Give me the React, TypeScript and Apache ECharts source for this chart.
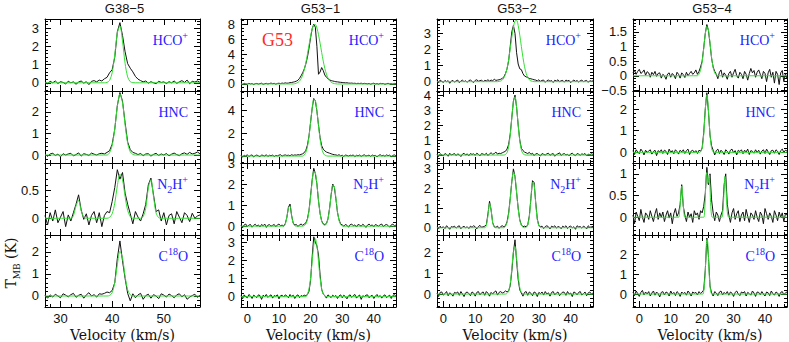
import React, { useEffect, useRef } from 'react';
import * as echarts from 'echarts';

// ---------------- text ----------------
const SOURCES = ['G38\u22125', 'G53\u22121', 'G53\u22122', 'G53\u22124'];
const LINE_LABELS = ['{b|HCO}{sup|+}', '{b|HNC}', '{b|N}{sub|2}{b|H}{sup|+}', '{b|C}{sup|18}{b|O}'];
const X_TITLE = 'Velocity (km/s)';
const Y_TITLE = '{b|T}{sub|MB}{b| (K)}';
const REGION_LABEL = 'G53';

// ---------------- velocity channels / axes ----------------
const V_FIRST = [27, -2, -2, -2];
const V_CHANNEL = 0.5;
const X_LIMITS = [[27, 57], [-2, 47], [-2, 47], [-2, 47]];
const X_MAJOR_STEP = 10;
const X_MINOR_STEP = 2;
// [min, max, major step, minor step] per source (column) and line (row)
const Y_LIMITS = [
  [[-0.45, 3.5, 1, 0.2], [-0.37, 2.97, 1, 0.2], [-0.3, 0.99, 0.5, 0.1], [-0.5, 2.77, 1, 0.2]],
  [[-0.94, 8.7, 2, 0.5], [-0.6, 5.65, 2, 0.5], [-0.42, 3.0, 1, 0.2], [-0.57, 3.4, 1, 0.2]],
  [[-0.58, 3.9, 1, 0.2], [-0.53, 4.27, 1, 0.2], [-0.37, 3.3, 1, 0.2], [-0.62, 2.83, 1, 0.2]],
  [[-0.52, 1.94, 0.5, 0.1], [-0.49, 2.83, 1, 0.2], [-0.41, 1.25, 0.5, 0.1], [-0.65, 2.95, 1, 0.2]],
];

// ---------------- G38-5 (27 .. 57 km/s, 0.5 km/s channels) ----------------
const G38_5_HCO_OBS = [
  0.05, -0.05, 0.08, 0.0, 0.1, -0.04, 0.06, 0.02, -0.06, 0.08,
  0.0, 0.05, -0.08, 0.04, 0.1, -0.02, 0.06, -0.1, 0.08, 0.12,
  0.05, 0.15, 0.1, 0.22, 0.3, 0.55, 0.72, 1.4, 2.8, 3.3,
  2.6, 1.7, 1.05, 0.8, 0.6, 0.35, 0.2, 0.12, 0.05, 0.1,
  -0.02, 0.06, 0.0, -0.05, 0.08, 0.02, 0.05, -0.04, 0.06, 0.0,
  0.1, -0.03, 0.05, 0.12, 0.02, 0.15, -0.05, 0.08, 0.04, 0.1,
  0.02];
const G38_5_HCO_FIT = [[27, 0], [38.5, 0], [39, 0.02], [39.5, 0.13], [40, 0.55], [40.5, 1.53], [41, 2.73], [41.5, 3.12], [42, 2.29], [42.5, 1.07], [43, 0.32], [43.5, 0.06], [44, 0.01], [44.5, 0], [57, 0]];

const G38_5_HNC_OBS = [
  0.03, -0.06, 0.05, 0.08, -0.02, 0.04, -0.08, 0.06, 0.0, 0.05,
  0.08, -0.04, 0.02, 0.1, -0.05, 0.06, 0.03, -0.02, 0.09, 0.04,
  0.0, 0.06, 0.08, 0.05, 0.12, 0.2, 0.5, 1.2, 2.3, 2.9,
  2.5, 1.5, 0.6, 0.25, 0.12, 0.08, 0.02, 0.07, -0.03, 0.05,
  0.06, -0.05, 0.03, 0.08, -0.02, 0.05, 0.0, 0.07, -0.04, 0.04,
  0.09, 0.02, -0.03, 0.06, 0.1, 0.03, 0.12, 0.05, 0.08, 0.14,
  0.06];
const G38_5_HNC_FIT = [[27, 0], [39, 0], [39.5, 0.11], [40, 0.44], [40.5, 1.2], [41, 2.25], [41.5, 2.84], [42, 2.43], [42.5, 1.41], [43, 0.55], [43.5, 0.15], [44, 0.03], [44.5, 0], [57, 0]];

const G38_5_N2H_OBS = [
  0.05, -0.12, 0.1, -0.05, 0.15, -0.08, 0.02, 0.12, -0.15, 0.06,
  -0.05, 0.1, 0.25, 0.42, 0.15, -0.02, 0.08, -0.12, 0.05, 0.12,
  -0.08, 0.1, -0.15, 0.05, 0.12, 0.1, 0.3, 0.55, 0.87, 0.7,
  0.82, 0.45, 0.25, 0.08, -0.1, 0.12, 0.02, -0.05, 0.08, 0.25,
  0.6, 0.72, 0.42, 0.12, 0.15, -0.05, 0.1, -0.12, 0.05, 0.08,
  -0.1, 0.12, 0.02, -0.08, 0.1, 0.05, -0.06, 0.09, 0.0, 0.04,
  0.06];
const G38_5_N2H_FIT = [[27, 0], [32, 0], [32.5, 0.045], [33, 0.22], [33.5, 0.32], [34, 0.136], [34.5, 0.017], [35, 0], [39, 0], [39.5, 0.016], [40, 0.08], [40.5, 0.27], [41, 0.58], [41.5, 0.79], [42, 0.69], [42.5, 0.39], [43, 0.14], [43.5, 0.03], [44, 0], [45.5, 0], [46, 0.03], [46.5, 0.18], [47, 0.54], [47.5, 0.69], [48, 0.39], [48.5, 0.095], [49, 0.01], [49.5, 0], [57, 0]];

const G38_5_C18O_OBS = [
  0.02, -0.1, 0.05, -0.05, 0.08, 0.0, -0.08, 0.1, 0.04, -0.04,
  0.06, 0.12, -0.06, 0.03, 0.08, -0.1, 0.05, 0.15, 0.0, 0.06,
  -0.05, 0.1, 0.08, 0.12, 0.18, 0.15, 0.25, 0.6, 1.7, 2.5,
  1.6, 0.8, 0.12, -0.22, 0.1, -0.08, 0.05, 0.12, -0.15, 0.02,
  0.08, -0.1, 0.06, 0.0, -0.12, 0.1, 0.04, -0.05, 0.09, 0.02,
  -0.08, 0.05, 0.1, -0.04, 0.06, -0.15, -0.05, 0.02, 0.08, -0.06,
  0.04];
const G38_5_C18O_FIT = [[27, 0], [39, 0], [39.5, 0.02], [40, 0.15], [40.5, 0.6], [41, 1.42], [41.5, 2.03], [42, 1.74], [42.5, 0.9], [43, 0.28], [43.5, 0.05], [44, 0], [57, 0]];

// ---------------- G53-1 (-2 .. 47 km/s, 0.5 km/s channels) ----------------
const G53_1_HCO_OBS = [
  0.05, -0.06, 0.08, 0.02, -0.04, 0.1, 0.0, 0.06, -0.08, 0.04,
  0.07, -0.02, 0.05, 0.1, -0.05, 0.03, 0.08, 0.0, 0.06, 0.12,
  0.04, 0.09, -0.03, 0.07, 0.1, 0.05, 0.12, 0.08, 0.15, 0.1,
  0.12, 0.18, 0.2, 0.25, 0.3, 0.38, 0.5, 0.75, 1.1, 1.5,
  2.0, 2.7, 3.6, 4.8, 6.2, 7.4, 8.0, 7.6, 5.0, 1.3,
  1.6, 2.2, 1.8, 1.2, 0.9, 0.7, 0.55, 0.45, 0.4, 0.35,
  0.3, 0.28, 0.25, 0.22, 0.2, 0.18, 0.15, 0.16, 0.12, 0.1,
  0.12, 0.08, 0.1, 0.05, 0.09, 0.06, 0.1, 0.03, 0.08, 0.05,
  0.02, 0.07, -0.04, 0.06, 0.1, 0.0, 0.05, -0.03, 0.08, 0.04,
  0.06, -0.05, 0.03, 0.09, 0.0, 0.05, -0.02, 0.07, 0.04];
const G53_1_HCO_FIT = [[-2, 0], [14.5, 0], [15, 0.04], [15.5, 0.1], [16, 0.2], [16.5, 0.39], [17, 0.7], [17.5, 1.2], [18, 1.9], [18.5, 2.85], [19, 3.99], [19.5, 5.2], [20, 6.4], [20.5, 7.35], [21, 7.9], [21.5, 7.96], [22, 7.5], [22.5, 6.6], [23, 5.47], [23.5, 4.23], [24, 3.07], [24.5, 2.08], [25, 1.32], [25.5, 0.79], [26, 0.44], [26.5, 0.23], [27, 0.11], [27.5, 0.05], [28, 0.02], [28.5, 0], [47, 0]];

const G53_1_HNC_OBS = [
  0.05, -0.1, 0.08, 0.0, 0.12, -0.05, 0.06, 0.1, -0.08, 0.04,
  0.09, 0.02, -0.06, 0.1, 0.05, 0.0, 0.12, -0.04, 0.07, 0.03,
  0.1, -0.05, 0.06, 0.02, 0.08, 0.12, 0.0, 0.07, 0.1, 0.05,
  0.08, 0.03, 0.12, 0.06, 0.1, 0.08, 0.12, 0.1, 0.15, 0.2,
  0.3, 0.5, 0.95, 1.75, 2.95, 4.15, 5.0, 4.8, 3.9, 2.7,
  1.6, 0.9, 0.6, 0.45, 0.35, 0.3, 0.25, 0.2, 0.15, 0.12,
  0.1, 0.06, 0.12, 0.02, 0.08, -0.05, 0.1, 0.05, 0.0, 0.08,
  0.04, 0.1, -0.06, 0.07, 0.02, 0.09, -0.03, 0.06, 0.11, 0.0,
  0.05, 0.08, -0.04, 0.1, 0.03, 0.06, -0.08, 0.05, 0.12, 0.02,
  0.07, -0.02, 0.1, 0.04, 0.08, -0.05, 0.06, 0.1, 0.03];
const G53_1_HNC_FIT = [[-2, 0], [17.5, 0], [18, 0.1], [18.5, 0.32], [19, 0.8], [19.5, 1.68], [20, 2.9], [20.5, 4.15], [21, 4.92], [21.5, 4.83], [22, 3.93], [22.5, 2.64], [23, 1.47], [23.5, 0.68], [24, 0.26], [24.5, 0.08], [25, 0.02], [25.5, 0], [47, 0]];

const G53_1_N2H_OBS = [
  0.03, -0.08, 0.06, 0.1, -0.02, 0.05, 0.08, -0.05, 0.04, 0.09,
  0.0, 0.06, -0.04, 0.08, 0.02, 0.1, -0.06, 0.05, 0.07, 0.0,
  0.04, 0.08, -0.03, 0.06, 0.1, 0.02, 0.05, 0.0, 0.12, 0.42,
  0.9, 1.05, 0.5, 0.15, 0.05, 0.08, -0.02, 0.06, 0.1, 0.04,
  0.1, 0.15, 0.35, 0.75, 1.45, 2.2, 2.75, 2.5, 2.0, 1.2,
  0.6, 0.25, 0.1, 0.08, 0.12, 0.35, 0.85, 1.5, 2.0, 1.85,
  1.3, 0.65, 0.3, 0.1, 0.06, 0.0, 0.08, 0.04, -0.05, 0.07,
  0.1, 0.02, 0.06, -0.04, 0.08, 0.05, 0.0, 0.09, 0.03, -0.06,
  0.05, 0.1, 0.02, 0.06, -0.03, 0.08, 0.04, 0.0, 0.07, 0.1,
  -0.02, 0.05, 0.08, 0.03, -0.05, 0.06, 0.1, 0.02, 0.05];
const G53_1_N2H_FIT = [[-2, 0], [11.5, 0], [12, 0.1], [12.5, 0.41], [13, 0.88], [13.5, 0.95], [14, 0.51], [14.5, 0.14], [15, 0.02], [15.5, 0], [17.5, 0], [18, 0.03], [18.5, 0.1], [19, 0.3], [19.5, 0.72], [20, 1.38], [20.5, 2.12], [21, 2.6], [21.5, 2.54], [22, 1.98], [22.5, 1.23], [23, 0.61], [23.5, 0.24], [24, 0.08], [24.5, 0.04], [25, 0.1], [25.5, 0.34], [26, 0.82], [26.5, 1.48], [27, 1.95], [27.5, 1.89], [28, 1.35], [28.5, 0.7], [29, 0.27], [29.5, 0.08], [30, 0.01], [30.5, 0], [47, 0]];

const G53_1_C18O_OBS = [
  0.05, -0.12, 0.1, 0.0, -0.06, 0.12, 0.04, -0.1, 0.08, 0.02,
  -0.05, 0.1, 0.06, -0.15, 0.08, 0.0, 0.12, -0.04, 0.05, 0.1,
  -0.08, 0.06, 0.02, 0.1, -0.12, 0.05, 0.08, -0.02, 0.1, 0.04,
  -0.06, 0.12, 0.0, 0.08, -0.1, 0.05, 0.1, -0.05, 0.06, 0.02,
  0.08, 0.05, 0.12, 0.3, 0.9, 2.2, 3.3, 3.0, 2.8, 2.3,
  1.2, 0.4, 0.15, 0.05, -0.08, 0.1, 0.02, -0.05, 0.08, 0.0,
  0.06, -0.1, 0.04, 0.1, -0.06, 0.08, 0.0, -0.12, 0.05, 0.1,
  -0.04, 0.06, 0.12, -0.08, 0.02, 0.09, -0.15, 0.05, 0.0, 0.08,
  0.1, -0.06, 0.04, 0.07, -0.1, 0.03, 0.12, -0.02, 0.06, -0.08,
  0.05, 0.1, -0.05, 0.02, 0.08, -0.1, 0.06, 0.12, 0.0];
const G53_1_C18O_FIT = [[-2, 0], [18.5, 0], [19, 0.14], [19.5, 0.43], [20, 1.04], [20.5, 1.94], [21, 2.82], [21.5, 3.2], [22, 2.82], [22.5, 1.94], [23, 1.04], [23.5, 0.43], [24, 0.14], [24.5, 0.04], [25, 0], [47, 0]];

// ---------------- G53-2 ----------------
const G53_2_HCO_OBS = [
  0.05, -0.08, 0.1, 0.02, -0.05, 0.08, 0.0, 0.06, -0.1, 0.04,
  0.08, -0.03, 0.05, 0.1, -0.06, 0.04, 0.09, 0.0, 0.06, -0.04,
  0.07, 0.1, 0.02, -0.05, 0.08, 0.12, 0.03, 0.06, 0.1, 0.0,
  0.08, 0.05, 0.12, 0.04, 0.1, 0.06, 0.15, 0.08, 0.1, 0.12,
  0.15, 0.2, 0.3, 0.5, 0.8, 1.3, 2.2, 3.1, 3.5, 3.0,
  1.8, 1.1, 0.8, 0.75, 0.5, 0.35, 0.3, 0.25, 0.2, 0.18,
  0.15, 0.12, 0.1, 0.05, 0.12, 0.02, 0.08, 0.1, -0.04, 0.06,
  0.1, 0.03, 0.07, -0.05, 0.09, 0.04, 0.12, 0.0, 0.06, 0.08,
  -0.03, 0.1, 0.05, 0.08, -0.06, 0.04, 0.1, 0.02, 0.07, -0.02,
  0.06, 0.1, 0.0, 0.05, 0.08, -0.04, 0.06, 0.03, 0.05];
const G53_2_HCO_FIT = [[-2, 0], [17, 0], [17.5, 0.02], [18, 0.04], [18.5, 0.1], [19, 0.23], [19.5, 0.46], [20, 0.83], [20.5, 1.37], [21, 2.05], [21.5, 2.77], [22, 3.4], [22.5, 3.78], [23, 3.82], [23.5, 3.5], [24, 2.9], [24.5, 2.19], [25, 1.5], [25.5, 0.93], [26, 0.52], [26.5, 0.27], [27, 0.12], [27.5, 0.05], [28, 0.02], [28.5, 0], [47, 0]];

const G53_2_HNC_OBS = [
  0.06, -0.1, 0.08, 0.02, -0.06, 0.1, 0.04, -0.08, 0.12, 0.0,
  0.05, 0.1, -0.04, 0.08, 0.02, -0.1, 0.06, 0.12, 0.0, 0.08,
  -0.05, 0.1, 0.04, 0.08, -0.02, 0.12, 0.05, -0.06, 0.1, 0.06,
  0.02, 0.12, -0.04, 0.08, 0.15, 0.05, 0.1, 0.2, 0.06, 0.12,
  0.1, 0.15, 0.2, 0.25, 0.4, 0.7, 1.4, 2.5, 3.6, 4.0,
  3.2, 2.0, 1.0, 0.45, 0.3, 0.2, 0.15, 0.1, 0.18, 0.05,
  0.12, -0.04, 0.08, 0.1, 0.02, -0.06, 0.1, 0.05, 0.0, 0.08,
  0.12, -0.02, 0.06, 0.1, -0.08, 0.04, 0.08, 0.15, -0.03, 0.06,
  0.1, 0.0, 0.05, -0.06, 0.08, 0.12, 0.02, -0.04, 0.1, 0.06,
  -0.02, 0.08, 0.04, 0.1, -0.05, 0.06, 0.02, 0.08, 0.04];
const G53_2_HNC_FIT = [[-2, 0], [19, 0], [19.5, 0.04], [20, 0.16], [20.5, 0.53], [21, 1.32], [21.5, 2.49], [22, 3.57], [22.5, 3.88], [23, 3.19], [23.5, 2.0], [24, 0.94], [24.5, 0.34], [25, 0.09], [25.5, 0.02], [26, 0], [47, 0]];

const G53_2_N2H_OBS = [
  0.04, -0.06, 0.08, 0.0, 0.05, -0.04, 0.1, 0.02, -0.08, 0.06,
  0.03, 0.08, -0.02, 0.06, 0.1, -0.05, 0.04, 0.07, 0.0, 0.05,
  -0.04, 0.08, 0.02, 0.1, 0.05, -0.06, 0.06, 0.12, 0.02, 0.05,
  0.08, 0.15, 0.7, 1.35, 0.9, 0.25, 0.05, 0.02, 0.08, -0.03,
  0.06, 0.1, 0.05, 0.1, 0.3, 0.75, 1.5, 2.35, 3.0, 2.6,
  1.8, 1.0, 0.4, 0.15, 0.05, 0.08, 0.05, 0.15, 0.6, 1.5,
  2.4, 2.3, 1.3, 0.45, 0.1, 0.05, 0.08, -0.04, 0.06, 0.1,
  0.05, -0.06, 0.08, 0.03, 0.1, -0.02, 0.06, 0.04, -0.05, 0.08,
  0.02, 0.1, -0.04, 0.06, 0.08, 0.0, 0.05, -0.08, 0.1, 0.04,
  0.06, -0.02, 0.08, 0.03, -0.06, 0.1, 0.02, 0.05, 0.07];
const G53_2_N2H_FIT = [[-2, 0], [13, 0], [13.5, 0.11], [14, 0.61], [14.5, 1.23], [15, 0.91], [15.5, 0.25], [16, 0.02], [16.5, 0], [19, 0], [19.5, 0.07], [20, 0.25], [20.5, 0.69], [21, 1.46], [21.5, 2.33], [22, 2.83], [22.5, 2.61], [23, 1.82], [23.5, 0.96], [24, 0.38], [24.5, 0.12], [25, 0.03], [25.5, 0], [26, 0.02], [26.5, 0.13], [27, 0.55], [27.5, 1.46], [28, 2.3], [28.5, 2.19], [29, 1.25], [29.5, 0.43], [30, 0.09], [30.5, 0.01], [31, 0], [47, 0]];

const G53_2_C18O_OBS = [
  0.05, -0.12, 0.08, 0.1, -0.05, 0.02, 0.12, -0.08, 0.06, 0.0,
  -0.1, 0.08, 0.04, 0.1, -0.06, 0.12, 0.0, -0.12, 0.06, 0.1,
  0.02, -0.08, 0.1, 0.05, -0.1, 0.08, 0.12, -0.04, 0.06, 0.1,
  -0.06, 0.12, 0.04, -0.1, 0.08, 0.0, 0.1, 0.15, -0.05, 0.08,
  0.12, 0.05, 0.08, 0.15, 0.1, 0.15, 0.4, 1.1, 2.0, 2.6,
  1.6, 0.7, 0.2, 0.05, -0.1, 0.08, 0.12, -0.06, 0.1, 0.04,
  -0.08, 0.1, 0.06, -0.12, 0.08, 0.02, 0.1, -0.05, 0.12, 0.0,
  0.06, -0.1, 0.08, 0.12, -0.04, 0.05, 0.1, -0.08, 0.02, 0.1,
  0.08, -0.06, 0.12, 0.0, 0.05, -0.12, 0.1, 0.06, -0.04, 0.08,
  0.12, -0.05, 0.02, 0.1, -0.08, 0.06, 0.1, 0.0, 0.05];
const G53_2_C18O_FIT = [[-2, 0], [19.5, 0], [20, 0.03], [20.5, 0.14], [21, 0.5], [21.5, 1.22], [22, 2.03], [22.5, 2.28], [23, 1.74], [23.5, 0.89], [24, 0.31], [24.5, 0.07], [25, 0.01], [25.5, 0], [47, 0]];

// ---------------- G53-4 ----------------
const G53_4_HCO_OBS = [
  0.1, 0.18, 0.05, 0.15, 0.22, 0.08, 0.12, 0.2, 0.02, 0.14,
  0.1, -0.05, 0.12, 0.04, 0.15, -0.02, 0.08, 0.1, -0.08, 0.05,
  0.0, -0.12, 0.06, 0.1, -0.05, 0.08, 0.02, -0.1, 0.12, 0.05,
  -0.08, 0.1, 0.04, -0.06, 0.12, 0.0, 0.08, 0.15, 0.05, 0.1,
  0.2, 0.05, 0.15, 0.3, 0.5, 0.95, 1.45, 1.75, 1.55, 1.1,
  0.6, 0.3, 0.15, 0.05, -0.1, 0.12, 0.2, -0.05, 0.1, 0.02,
  -0.12, 0.08, 0.15, -0.05, 0.1, 0.22, 0.0, -0.08, 0.12, 0.05,
  -0.1, 0.15, 0.05, -0.15, 0.08, 0.25, 0.1, 0.18, -0.05, 0.12,
  0.2, 0.05, -0.1, 0.15, 0.08, -0.2, 0.1, 0.22, -0.05, 0.12,
  -0.25, 0.15, 0.05, -0.3, 0.1, 0.18, -0.2, 0.08, -0.1];
const G53_4_HCO_FIT = [[-2, 0], [18.5, 0], [19, 0.06], [19.5, 0.19], [20, 0.47], [20.5, 0.93], [21, 1.42], [21.5, 1.69], [22, 1.57], [22.5, 1.13], [23, 0.64], [23.5, 0.28], [24, 0.1], [24.5, 0.03], [25, 0], [47, 0]];

const G53_4_HNC_OBS = [
  0.08, -0.1, 0.12, 0.02, -0.06, 0.15, 0.05, -0.12, 0.1, 0.0,
  0.06, 0.12, -0.08, 0.04, 0.1, -0.15, 0.08, 0.02, 0.12, -0.05,
  0.1, 0.05, -0.1, 0.15, 0.0, 0.08, -0.06, 0.12, 0.04, -0.08,
  0.1, 0.02, 0.12, -0.05, 0.08, 0.15, -0.1, 0.06, 0.1, 0.0,
  0.08, -0.05, 0.1, 0.05, 0.2, 0.9, 2.0, 2.75, 1.9, 0.8,
  0.3, 0.1, -0.12, 0.08, 0.15, -0.05, 0.1, 0.02, -0.1, 0.12,
  0.05, -0.08, 0.1, 0.15, -0.02, 0.08, -0.12, 0.1, 0.04, 0.12,
  -0.06, 0.1, 0.02, 0.15, -0.1, 0.08, 0.05, -0.04, 0.12, 0.0,
  0.1, -0.08, 0.06, 0.12, -0.05, 0.15, 0.02, -0.1, 0.08, 0.1,
  -0.04, 0.12, 0.05, -0.1, 0.08, 0.15, 0.0, 0.1, 0.06];
const G53_4_HNC_FIT = [[-2, 0], [19, 0], [19.5, 0.02], [20, 0.19], [20.5, 0.81], [20.75, 1.36], [21, 1.97], [21.25, 2.46], [21.5, 2.65], [21.75, 2.46], [22, 1.97], [22.25, 1.36], [22.5, 0.81], [23, 0.19], [23.5, 0.02], [24, 0], [47, 0]];

const G53_4_N2H_OBS = [
  0.05, -0.15, 0.12, 0.02, -0.08, 0.18, 0.0, -0.12, 0.1, 0.05,
  -0.05, 0.15, 0.02, -0.1, 0.08, 0.2, -0.05, 0.1, 0.0, 0.12,
  -0.1, 0.05, 0.15, -0.02, 0.1, -0.15, 0.08, 0.2, 0.02, 0.1,
  0.3, 0.75, 0.25, 0.05, -0.1, 0.12, 0.0, 0.08, -0.12, 0.15,
  0.05, 0.1, -0.05, 0.15, 0.1, 0.25, 0.55, 1.15, 0.75, 1.0,
  0.4, 0.1, -0.08, 0.12, 0.05, -0.1, 0.05, 0.15, 0.75, 1.0,
  0.3, 0.05, -0.12, 0.1, 0.2, -0.05, 0.08, 0.15, -0.1, 0.05,
  0.12, -0.08, 0.18, 0.02, -0.12, 0.1, 0.05, -0.05, 0.15, 0.0,
  -0.1, 0.12, 0.05, -0.15, 0.2, 0.08, -0.05, 0.1, 0.02, -0.12,
  0.15, 0.05, -0.08, 0.12, 0.0, 0.1, -0.1, 0.08, 0.05];
const G53_4_N2H_FIT = [[-2, 0], [12.5, 0], [12.75, 0.07], [13, 0.26], [13.25, 0.56], [13.5, 0.72], [13.75, 0.56], [14, 0.26], [14.25, 0.07], [14.5, 0], [20.5, 0], [20.75, 0.1], [21, 0.43], [21.25, 0.93], [21.5, 1.03], [21.75, 0.77], [22, 0.81], [22.25, 0.97], [22.5, 0.67], [22.75, 0.24], [23, 0.04], [23.25, 0], [26.25, 0], [26.5, 0.07], [26.75, 0.28], [27, 0.66], [27.25, 0.94], [27.5, 0.81], [27.75, 0.42], [28, 0.13], [28.25, 0.02], [28.5, 0], [47, 0]];

const G53_4_C18O_OBS = [
  0.1, -0.08, 0.15, 0.02, -0.12, 0.08, 0.18, -0.05, 0.1, 0.0,
  0.12, -0.1, 0.05, 0.15, -0.06, 0.1, 0.02, -0.15, 0.08, 0.12,
  -0.05, 0.1, 0.06, -0.1, 0.15, 0.0, 0.08, -0.08, 0.12, 0.05,
  -0.12, 0.1, 0.02, 0.08, -0.06, 0.15, 0.05, -0.1, 0.1, 0.04,
  0.08, -0.05, 0.12, 0.02, 0.1, 0.2, 1.2, 2.8, 1.9, 0.4,
  0.05, -0.1, 0.12, 0.05, -0.08, 0.1, 0.15, -0.05, 0.08, 0.0,
  0.12, -0.06, 0.1, 0.04, -0.12, 0.08, 0.15, 0.0, -0.08, 0.1,
  0.05, 0.12, -0.1, 0.08, 0.02, -0.06, 0.15, 0.05, -0.12, 0.1,
  0.08, -0.04, 0.12, 0.0, -0.1, 0.1, 0.06, -0.08, 0.15, 0.02,
  -0.06, 0.1, 0.05, -0.12, 0.08, 0.12, -0.04, 0.06, 0.1];
const G53_4_C18O_FIT = [[-2, 0], [20.25, 0], [20.5, 0.14], [20.75, 0.47], [21, 1.15], [21.25, 2.07], [21.5, 2.73], [21.75, 2.65], [22, 1.89], [22.25, 0.99], [22.5, 0.38], [22.75, 0.11], [23, 0.01], [23.25, 0], [47, 0]];

const OBS = [
  [G38_5_HCO_OBS, G38_5_HNC_OBS, G38_5_N2H_OBS, G38_5_C18O_OBS],
  [G53_1_HCO_OBS, G53_1_HNC_OBS, G53_1_N2H_OBS, G53_1_C18O_OBS],
  [G53_2_HCO_OBS, G53_2_HNC_OBS, G53_2_N2H_OBS, G53_2_C18O_OBS],
  [G53_4_HCO_OBS, G53_4_HNC_OBS, G53_4_N2H_OBS, G53_4_C18O_OBS],
];
const FIT = [
  [G38_5_HCO_FIT, G38_5_HNC_FIT, G38_5_N2H_FIT, G38_5_C18O_FIT],
  [G53_1_HCO_FIT, G53_1_HNC_FIT, G53_1_N2H_FIT, G53_1_C18O_FIT],
  [G53_2_HCO_FIT, G53_2_HNC_FIT, G53_2_N2H_FIT, G53_2_C18O_FIT],
  [G53_4_HCO_FIT, G53_4_HNC_FIT, G53_4_N2H_FIT, G53_4_C18O_FIT],
];

// ---------------- layout ----------------
const COL_LEFT = [45, 241, 437, 633];
const COL_WIDTH = [155, 155, 156, 154];
const ROW_TOP = [19, 91, 163, 235];
const ROW_HEIGHT = 72;

const TICK_FONT = { fontFamily: 'Liberation Sans', fontSize: 13, color: '#111' };
const LABEL_BLUE = '#2222ff';

function ticksBetween(min: number, max: number, step: number): number[] {
  const out: number[] = [];
  for (let k = Math.ceil(min / step - 1e-6); k * step <= max + 1e-6; k++) out.push(Number((k * step).toFixed(4)));
  return out;
}
function fmt(v: number): string {
  const r = Math.round(v);
  const s = Math.abs(v - r) < 1e-6 ? String(r) : v.toFixed(1);
  return s.replace('-', '\u2212');
}
function makeAxis(gridIndex: number, position: string, min: number, max: number, ticks: number[], len: number, showLine: boolean, showLabels: boolean, margin: number) {
  return {
    type: 'value', gridIndex, position, min, max,
    axisLine: { show: showLine, onZero: false, lineStyle: { color: '#000', width: 1 } },
    axisTick: { show: true, inside: true, length: len, customValues: ticks, lineStyle: { color: '#000', width: 1 } },
    axisLabel: showLabels ? { show: true, customValues: ticks, formatter: fmt, margin, ...TICK_FONT } : { show: false },
    splitLine: { show: false }, minorTick: { show: false }, minorSplitLine: { show: false },
    axisPointer: { show: false },
  };
}

function buildOption() {
  const grid: any[] = [], xAxis: any[] = [], yAxis: any[] = [], series: any[] = [], graphic: any[] = [];
  for (let c = 0; c < 4; c++) {
    for (let r = 0; r < 4; r++) {
      const k = c * 4 + r;
      grid.push({ left: COL_LEFT[c], top: ROW_TOP[r], width: COL_WIDTH[c], height: ROW_HEIGHT, show: false });
      const [xmin, xmax] = X_LIMITS[c];
      const xMaj = ticksBetween(xmin, xmax, X_MAJOR_STEP);
      const xMin = ticksBetween(xmin, xmax, X_MINOR_STEP);
      xAxis.push(makeAxis(k, 'bottom', xmin, xmax, xMaj, 6, true, r === 3, 5));
      xAxis.push(makeAxis(k, 'top', xmin, xmax, xMaj, 6, true, false, 0));
      xAxis.push(makeAxis(k, 'bottom', xmin, xmax, xMin, 3, false, false, 0));
      xAxis.push(makeAxis(k, 'top', xmin, xmax, xMin, 3, false, false, 0));
      const [ymin, ymax, ymaj, yminor] = Y_LIMITS[c][r];
      const yMaj = ticksBetween(ymin, ymax, ymaj);
      const yMin = ticksBetween(ymin, ymax, yminor);
      yAxis.push(makeAxis(k, 'left', ymin, ymax, yMaj, 6, true, true, 6));
      yAxis.push(makeAxis(k, 'right', ymin, ymax, yMaj, 6, true, false, 0));
      yAxis.push(makeAxis(k, 'left', ymin, ymax, yMin, 3, false, false, 0));
      yAxis.push(makeAxis(k, 'right', ymin, ymax, yMin, 3, false, false, 0));

      const obs = OBS[c][r].map((y, i) => [V_FIRST[c] + i * V_CHANNEL, y]);
      series.push({
        type: 'line', xAxisIndex: k * 4, yAxisIndex: k * 4, data: obs,
        showSymbol: false, symbol: 'none', silent: true, z: 2,
        lineStyle: { color: '#111', width: 1 },
      });
      series.push({
        type: 'line', xAxisIndex: k * 4, yAxisIndex: k * 4, data: FIT[c][r], smooth: 0.3,
        showSymbol: false, symbol: 'none', silent: true, z: 3,
        lineStyle: { color: '#35e035', width: 1 },
      });

      graphic.push({
        type: 'text', x: COL_LEFT[c] + COL_WIDTH[c] - 12, y: ROW_TOP[r] + 21, z: 10,
        style: {
          text: LINE_LABELS[r], align: 'right', verticalAlign: 'middle', textAlign: 'right', textVerticalAlign: 'middle',
          rich: {
            b: { fontFamily: 'Liberation Serif', fontSize: 14, fill: LABEL_BLUE, color: LABEL_BLUE, lineHeight: 20, verticalAlign: 'middle' },
            sup: { fontFamily: 'Liberation Serif', fontSize: 10, fill: LABEL_BLUE, color: LABEL_BLUE, lineHeight: 9, verticalAlign: 'top' },
            sub: { fontFamily: 'Liberation Serif', fontSize: 10, fill: LABEL_BLUE, color: LABEL_BLUE, lineHeight: 12, verticalAlign: 'bottom' },
          },
        },
      });
    }
    graphic.push({
      type: 'text', x: COL_LEFT[c] + COL_WIDTH[c] / 2 + 2, y: 8,
      style: { text: SOURCES[c], fontFamily: 'Liberation Sans', fontSize: 13, fill: '#111', align: 'center', verticalAlign: 'middle', textAlign: 'center', textVerticalAlign: 'middle' },
    });
    graphic.push({
      type: 'text', x: COL_LEFT[c] + COL_WIDTH[c] / 2, y: 335,
      style: { text: X_TITLE, fontFamily: 'DejaVu Serif', fontSize: 14, fill: '#111', align: 'center', verticalAlign: 'middle', textAlign: 'center', textVerticalAlign: 'middle' },
    });
  }
  graphic.push({
    type: 'text', x: 262, y: 40,
    style: { text: REGION_LABEL, fontFamily: 'Liberation Serif', fontSize: 18, fill: '#ff2a2a', align: 'left', verticalAlign: 'middle', textAlign: 'left', textVerticalAlign: 'middle' },
  });
  graphic.push({
    type: 'text', x: 11, y: 263, rotation: Math.PI / 2,
    style: {
      text: Y_TITLE, align: 'center', verticalAlign: 'middle', textAlign: 'center', textVerticalAlign: 'middle',
      rich: {
        b: { fontFamily: 'DejaVu Serif', fontSize: 14, fill: '#111', color: '#111', lineHeight: 20, verticalAlign: 'middle' },
        sub: { fontFamily: 'DejaVu Serif', fontSize: 9, fill: '#111', color: '#111', lineHeight: 12, verticalAlign: 'bottom' },
      },
    },
  });
  return { animation: false, backgroundColor: '#fff', grid, xAxis, yAxis, series, graphic };
}

export default function App() {
  const ref = useRef<HTMLDivElement>(null);
  useEffect(() => {
    if (!ref.current) return;
    const chart = echarts.init(ref.current, null, { renderer: 'svg' });
    chart.setOption(buildOption() as any);
    return () => chart.dispose();
  }, []);
  return <div ref={ref} style={{ position: 'absolute', left: 0, top: 0, width: 789, height: 342 }} />;
}
